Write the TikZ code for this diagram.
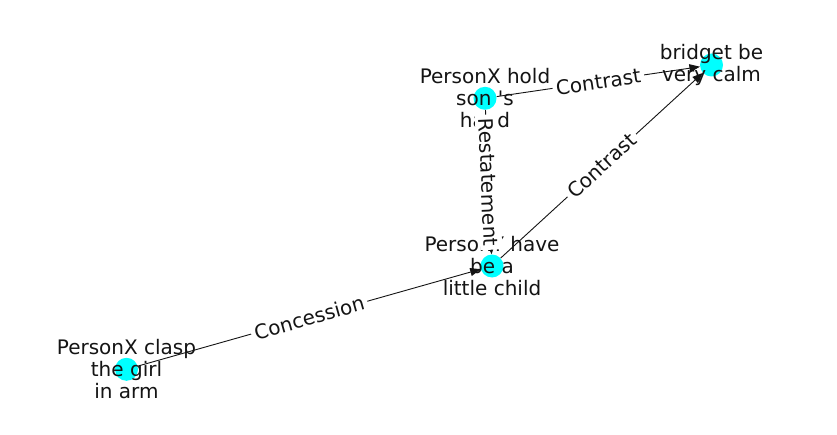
\documentclass[tikz,border=0pt]{standalone}
\usepackage{fontspec}
\setmainfont{DejaVu Sans}
\usetikzlibrary{arrows.meta}
\definecolor{nodecyan}{RGB}{0,255,255}
\definecolor{ink}{RGB}{20,20,20}
\pgfdeclarelayer{bg}
\pgfdeclarelayer{paper}
\pgfsetlayers{paper,bg,main}
\tikzset{
  vert/.style={circle, fill=nodecyan, draw=none, minimum size=23pt, inner sep=0pt},
  vlabel/.style={align=center, text=ink, font=\fontsize{20}{22}\selectfont, inner sep=0pt},
  edge/.style={draw=ink, line width=0.9pt, -{Triangle[length=10.5pt,width=8pt]}},
  elabel/.style={fill=white, text=ink, font=\fontsize{20}{22}\selectfont, inner sep=3.5pt, sloped, midway},
}
\begin{document}
\begin{tikzpicture}[x=1pt,y=1pt]
\begin{pgfonlayer}{paper}
\fill[white] (0,0) rectangle (837,434);
\end{pgfonlayer}
\useasboundingbox (0,0) rectangle (837,434);
\node[vert] (bridget) at (711.5,369) {};
\node[vert] (hold) at (485,335.7) {};
\node[vert] (have) at (492,168) {};
\node[vert] (clasp) at (126.5,64.7) {};
\begin{pgfonlayer}{bg}
\draw[edge] (hold) -- (bridget);
\draw[edge] (have) -- (bridget);
\draw[edge] (hold) -- (have);
\draw[edge] (clasp) -- (have);
\end{pgfonlayer}
\node[vlabel] (tbridget) at (bridget) {bridget be\\very calm};
\node[vlabel] (thold) at (hold) {PersonX hold\\son \textquotesingle s\\hand};
\node[vlabel] (thave) at (have) {PersonY have\\be a\\little child};
\node[vlabel] (tclasp) at (clasp) {PersonX clasp\\the girl\\in arm};
\path (hold) -- (bridget) node[elabel] {Contrast};
\path (have) -- (bridget) node[elabel] {Contrast};
\path (hold) -- (have) node[elabel] {Restatement};
\path (clasp) -- (have) node[elabel] {Concession};
\end{tikzpicture}
\end{document}
